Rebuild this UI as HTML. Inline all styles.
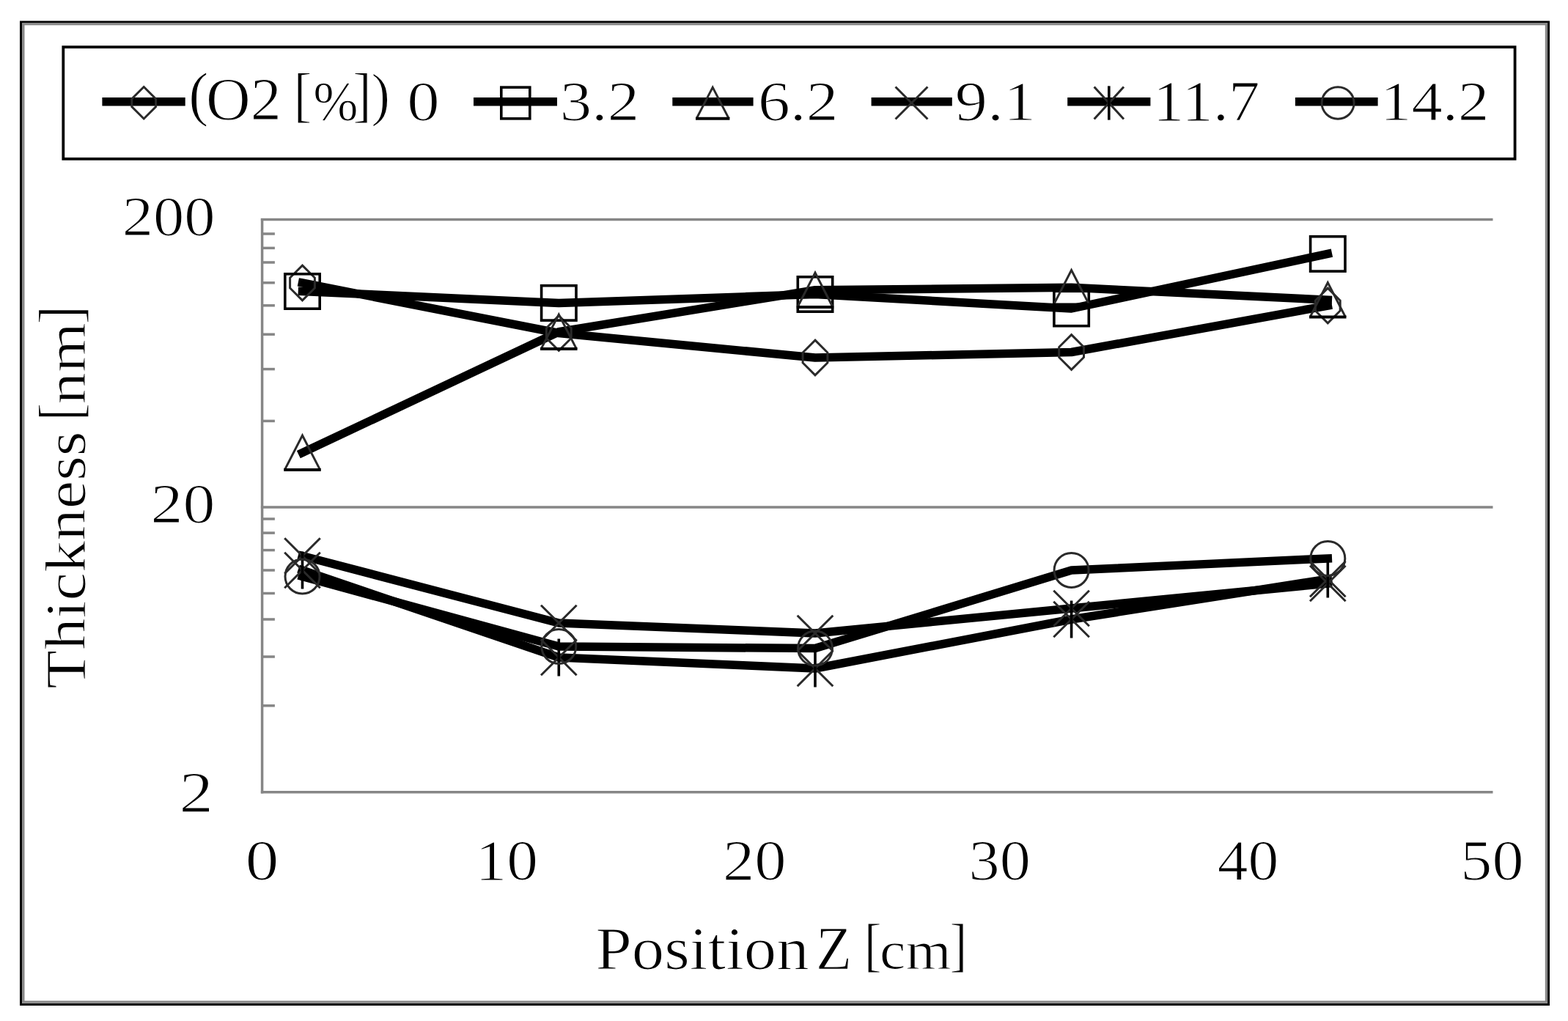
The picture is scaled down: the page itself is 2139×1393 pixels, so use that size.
<!DOCTYPE html><html><head><meta charset="utf-8"><title>Thickness vs Position Z</title>
<style>html,body{margin:0;padding:0;background:#fff;}svg{display:block;filter:blur(0.6px);}.t{fill:#000;stroke:#fff;stroke-width:1.2px;}</style></head><body>
<svg width="2139" height="1393" viewBox="0 0 2139 1393">
<rect x="0" y="0" width="2139" height="1393" fill="#fff"/>
<rect x="28.5" y="30" width="2084" height="1340.5" fill="none" stroke="#000" stroke-width="3"/>
<rect x="31.8" y="32.7" width="2077.7" height="1334.4" fill="none" stroke="#888" stroke-width="3.4"/>
<rect x="86.3" y="64.2" width="1980.3" height="152.6" fill="none" stroke="#000" stroke-width="3.8"/>
<g stroke="#868686" stroke-width="3.5" fill="none">
<line x1="357.6" y1="298" x2="357.6" y2="1082.6"/>
<line x1="355.85" y1="299.6" x2="2036.5" y2="299.6"/>
<line x1="355.85" y1="691.9" x2="2036.5" y2="691.9"/>
<line x1="355.85" y1="1080.8" x2="2036.5" y2="1080.8"/>
<line x1="357.6" y1="319" x2="374.9" y2="319"/>
<line x1="357.6" y1="338.4" x2="374.9" y2="338.4"/>
<line x1="357.6" y1="358" x2="374.9" y2="358"/>
<line x1="357.6" y1="385.8" x2="374.9" y2="385.8"/>
<line x1="357.6" y1="416.8" x2="374.9" y2="416.8"/>
<line x1="357.6" y1="456.2" x2="374.9" y2="456.2"/>
<line x1="357.6" y1="503.6" x2="374.9" y2="503.6"/>
<line x1="357.6" y1="574.4" x2="374.9" y2="574.4"/>
<line x1="357.6" y1="708" x2="374.9" y2="708"/>
<line x1="357.6" y1="727.1" x2="374.9" y2="727.1"/>
<line x1="357.6" y1="750.6" x2="374.9" y2="750.6"/>
<line x1="357.6" y1="778" x2="374.9" y2="778"/>
<line x1="357.6" y1="809.5" x2="374.9" y2="809.5"/>
<line x1="357.6" y1="845" x2="374.9" y2="845"/>
<line x1="357.6" y1="896" x2="374.9" y2="896"/>
<line x1="357.6" y1="962.8" x2="374.9" y2="962.8"/>
</g>
<g fill="none" stroke="#000" stroke-width="11.5" stroke-linejoin="round" stroke-linecap="square">
<polyline points="412.5,386 762.3,454.5 1112.0,488 1461.6,480.5 1811.3,417"/>
<polyline points="412.5,397.5 762.3,413.4 1112.0,401.5 1461.6,421 1811.3,346.4"/>
<polyline points="412.5,617.7 762.3,452.7 1112.0,395.8 1461.6,392.2 1811.3,409.2"/>
<polyline points="412.5,758.5 762.3,850 1112.0,864 1461.6,830 1811.3,796"/>
<polyline points="412.5,778 762.3,897 1112.0,912 1461.6,845 1811.3,790"/>
<polyline points="412.5,786.5 762.3,882 1112.0,884.6 1461.6,778 1811.3,762"/>
</g>
<polygon points="412.5,362.1 429.4,379.0 429.4,393.0 412.5,409.9 395.6,393.0 395.6,379.0" fill="none" stroke="#2a2a2a" stroke-width="3.0" stroke-linejoin="miter"/>
<polygon points="762.3,430.6 779.1999999999999,447.5 779.1999999999999,461.5 762.3,478.4 745.4,461.5 745.4,447.5" fill="none" stroke="#2a2a2a" stroke-width="3.0" stroke-linejoin="miter"/>
<polygon points="1112.0,464.1 1128.9,481.0 1128.9,495.0 1112.0,511.9 1095.1,495.0 1095.1,481.0" fill="none" stroke="#2a2a2a" stroke-width="3.0" stroke-linejoin="miter"/>
<polygon points="1461.6,456.6 1478.5,473.5 1478.5,487.5 1461.6,504.4 1444.6999999999998,487.5 1444.6999999999998,473.5" fill="none" stroke="#2a2a2a" stroke-width="3.0" stroke-linejoin="miter"/>
<polygon points="1811.3,393.1 1828.2,410.0 1828.2,424.0 1811.3,440.9 1794.3999999999999,424.0 1794.3999999999999,410.0" fill="none" stroke="#2a2a2a" stroke-width="3.0" stroke-linejoin="miter"/>
<rect x="388.8" y="373.8" width="47.4" height="47.4" fill="none" stroke="#000" stroke-width="3.6"/>
<rect x="738.5999999999999" y="389.7" width="47.4" height="47.4" fill="none" stroke="#000" stroke-width="3.6"/>
<rect x="1088.3" y="377.8" width="47.4" height="47.4" fill="none" stroke="#000" stroke-width="3.6"/>
<rect x="1437.8999999999999" y="397.3" width="47.4" height="47.4" fill="none" stroke="#000" stroke-width="3.6"/>
<rect x="1787.6" y="322.7" width="47.4" height="47.4" fill="none" stroke="#000" stroke-width="3.6"/>
<polyline points="388.45,640.9000000000001 412.5,594.0 436.55,640.9000000000001" fill="none" stroke="#2a2a2a" stroke-width="3.0" stroke-linejoin="miter"/><line x1="387.25" y1="640.9000000000001" x2="437.75" y2="640.9000000000001" stroke="#000" stroke-width="4"/>
<polyline points="738.25,475.9 762.3,429.0 786.3499999999999,475.9" fill="none" stroke="#2a2a2a" stroke-width="3.0" stroke-linejoin="miter"/><line x1="737.05" y1="475.9" x2="787.55" y2="475.9" stroke="#000" stroke-width="4"/>
<polyline points="1087.95,419.0 1112.0,372.1 1136.05,419.0" fill="none" stroke="#2a2a2a" stroke-width="3.0" stroke-linejoin="miter"/><line x1="1086.75" y1="419.0" x2="1137.25" y2="419.0" stroke="#000" stroke-width="4"/>
<polyline points="1437.55,415.4 1461.6,368.5 1485.6499999999999,415.4" fill="none" stroke="#2a2a2a" stroke-width="3.0" stroke-linejoin="miter"/><line x1="1436.35" y1="415.4" x2="1486.85" y2="415.4" stroke="#000" stroke-width="4"/>
<polyline points="1787.25,432.4 1811.3,385.5 1835.35,432.4" fill="none" stroke="#2a2a2a" stroke-width="3.0" stroke-linejoin="miter"/><line x1="1786.05" y1="432.4" x2="1836.55" y2="432.4" stroke="#000" stroke-width="4"/>
<path d="M388.2,734.2L436.8,782.8M436.8,734.2L388.2,782.8" stroke="#2a2a2a" stroke-width="3.0" fill="none"/>
<path d="M738.0,825.7L786.5999999999999,874.3M786.5999999999999,825.7L738.0,874.3" stroke="#2a2a2a" stroke-width="3.0" fill="none"/>
<path d="M1087.7,839.7L1136.3,888.3M1136.3,839.7L1087.7,888.3" stroke="#2a2a2a" stroke-width="3.0" fill="none"/>
<path d="M1437.3,805.7L1485.8999999999999,854.3M1485.8999999999999,805.7L1437.3,854.3" stroke="#2a2a2a" stroke-width="3.0" fill="none"/>
<path d="M1787.0,771.7L1835.6,820.3M1835.6,771.7L1787.0,820.3" stroke="#2a2a2a" stroke-width="3.0" fill="none"/>
<path d="M388.2,753.7L436.8,802.3M436.8,753.7L388.2,802.3" stroke="#2a2a2a" stroke-width="3.0" fill="none"/><line x1="412.5" y1="752.5" x2="412.5" y2="803.5" stroke="#000" stroke-width="3.6"/>
<path d="M738.0,872.7L786.5999999999999,921.3M786.5999999999999,872.7L738.0,921.3" stroke="#2a2a2a" stroke-width="3.0" fill="none"/><line x1="762.3" y1="871.5" x2="762.3" y2="922.5" stroke="#000" stroke-width="3.6"/>
<path d="M1087.7,887.7L1136.3,936.3M1136.3,887.7L1087.7,936.3" stroke="#2a2a2a" stroke-width="3.0" fill="none"/><line x1="1112.0" y1="886.5" x2="1112.0" y2="937.5" stroke="#000" stroke-width="3.6"/>
<path d="M1437.3,820.7L1485.8999999999999,869.3M1485.8999999999999,820.7L1437.3,869.3" stroke="#2a2a2a" stroke-width="3.0" fill="none"/><line x1="1461.6" y1="819.5" x2="1461.6" y2="870.5" stroke="#000" stroke-width="3.6"/>
<path d="M1787.0,765.7L1835.6,814.3M1835.6,765.7L1787.0,814.3" stroke="#2a2a2a" stroke-width="3.0" fill="none"/><line x1="1811.3" y1="764.5" x2="1811.3" y2="815.5" stroke="#000" stroke-width="3.6"/>
<ellipse cx="412.5" cy="786.5" rx="23.5" ry="23.5" fill="none" stroke="#2a2a2a" stroke-width="3.0"/>
<ellipse cx="762.3" cy="882" rx="23.5" ry="23.5" fill="none" stroke="#2a2a2a" stroke-width="3.0"/>
<ellipse cx="1112.0" cy="884.6" rx="23.5" ry="23.5" fill="none" stroke="#2a2a2a" stroke-width="3.0"/>
<ellipse cx="1461.6" cy="778" rx="23.5" ry="23.5" fill="none" stroke="#2a2a2a" stroke-width="3.0"/>
<ellipse cx="1811.3" cy="762" rx="23.5" ry="23.5" fill="none" stroke="#2a2a2a" stroke-width="3.0"/>
<line x1="139.4" y1="138.7" x2="252.7" y2="138.7" stroke="#000" stroke-width="11.5"/>
<polygon points="196.2,118.5 212.6,134.9 212.6,145.6 196.2,162.0 179.79999999999998,145.6 179.79999999999998,134.9" fill="none" stroke="#2a2a2a" stroke-width="3.0" stroke-linejoin="miter"/>
<line x1="646" y1="138.7" x2="760" y2="138.7" stroke="#000" stroke-width="11.5"/>
<rect x="683.8" y="119.14999999999999" width="39.0" height="42.699999999999996" fill="none" stroke="#000" stroke-width="3.6"/>
<line x1="917.3" y1="138.7" x2="1027.6" y2="138.7" stroke="#000" stroke-width="11.5"/>
<polyline points="950.2,161.65 972.2,119.15 994.2,161.65" fill="none" stroke="#2a2a2a" stroke-width="3.0" stroke-linejoin="miter"/><line x1="949.0" y1="161.65" x2="995.4000000000001" y2="161.65" stroke="#000" stroke-width="4"/>
<line x1="1188.6" y1="138.7" x2="1298.8" y2="138.7" stroke="#000" stroke-width="11.5"/>
<path d="M1221.55,118.55L1265.45,162.45M1265.45,118.55L1221.55,162.45" stroke="#2a2a2a" stroke-width="3.0" fill="none"/>
<line x1="1456.2" y1="138.7" x2="1569.4" y2="138.7" stroke="#000" stroke-width="11.5"/>
<path d="M1492.6,118.55L1533.0,162.45M1533.0,118.55L1492.6,162.45" stroke="#2a2a2a" stroke-width="3.0" fill="none"/><line x1="1512.8" y1="117.35" x2="1512.8" y2="163.65" stroke="#000" stroke-width="3.6"/>
<line x1="1766.9" y1="138.7" x2="1879.6" y2="138.7" stroke="#000" stroke-width="11.5"/>
<ellipse cx="1825.1" cy="140.5" rx="22.0" ry="21.65" fill="none" stroke="#2a2a2a" stroke-width="3.0"/>
<g font-family='"Liberation Serif", "DejaVu Serif", serif'>
<text transform="translate(257.32,156.33) scale(1.0211,1.0246)" font-size="80" class="t">(</text>
<text transform="translate(281.10,163.40) scale(1.0506,1.0226)" font-size="80" class="t">O2</text>
<text transform="translate(400.44,157.28) scale(0.9375,1.0215)" font-size="80" class="t">[</text>
<text transform="translate(427.14,163.70) scale(0.9200,0.9528)" font-size="80" class="t">%</text>
<text transform="translate(481.25,157.28) scale(0.9625,1.0215)" font-size="80" class="t">]</text>
<text transform="translate(506.53,155.77) scale(0.9579,0.9958)" font-size="80" class="t">)</text>
<text transform="translate(555.22,163.70) scale(1.1700,1.0100)" font-size="76" class="t">0</text>
<text transform="translate(763.63,163.60) scale(1.1430,1.0020)" font-size="76" class="t">3.2</text>
<text transform="translate(1034.09,163.60) scale(1.1523,1.0020)" font-size="76" class="t">6.2</text>
<text transform="translate(1302.81,163.60) scale(1.1631,1.0020)" font-size="76" class="t">9.1</text>
<text transform="translate(1572.85,163.60) scale(1.1185,1.0224)" font-size="76" class="t">11.7</text>
<text transform="translate(1883.08,163.60) scale(1.1150,1.0020)" font-size="76" class="t">14.2</text>
<text transform="translate(166.65,320.70) scale(1.1132,1.0080)" font-size="76" class="t">200</text>
<text transform="translate(205.48,713.40) scale(1.1559,1.0100)" font-size="76" class="t">20</text>
<text transform="translate(244.62,1106.83) scale(1.2207,1.0327)" font-size="76" class="t">2</text>
<text transform="translate(334.70,1200.30) scale(1.2000,1.0160)" font-size="76" class="t">0</text>
<text transform="translate(648.40,1200.30) scale(1.1250,1.0160)" font-size="76" class="t">10</text>
<text transform="translate(985.94,1200.30) scale(1.1397,1.0160)" font-size="76" class="t">20</text>
<text transform="translate(1321.56,1200.30) scale(1.1103,1.0160)" font-size="76" class="t">30</text>
<text transform="translate(1660.80,1200.30) scale(1.1000,1.0160)" font-size="76" class="t">40</text>
<text transform="translate(1992.33,1200.30) scale(1.1343,1.0160)" font-size="76" class="t">50</text>
<text transform="translate(812.45,1322.00) scale(1.0830,1.0167)" font-size="82" class="t">Position</text>
<text transform="translate(1113.11,1322.54) scale(0.9775,1.0385)" font-size="82" class="t">Z</text>
<text transform="translate(1178.76,1315.78) scale(0.8765,0.9821)" font-size="82" class="t">[</text>
<text transform="translate(1200.01,1321.50) scale(0.9731,0.9079)" font-size="82" class="t">cm</text>
<text transform="translate(1295.49,1315.78) scale(0.8765,0.9821)" font-size="82" class="t">]</text>
<text transform="translate(115.80,939.81) rotate(-90) scale(1.0572,0.9561)" font-size="82" class="t">Thickness</text>
<text transform="translate(109.97,574.36) rotate(-90) scale(0.8941,1.0030)" font-size="82" class="t">[</text>
<text transform="translate(115.70,551.80) rotate(-90) scale(1.0667,0.9316)" font-size="82" class="t">nm</text>
<text transform="translate(109.97,442.44) rotate(-90) scale(0.9353,1.0030)" font-size="82" class="t">]</text>
</g>
</svg></body></html>
